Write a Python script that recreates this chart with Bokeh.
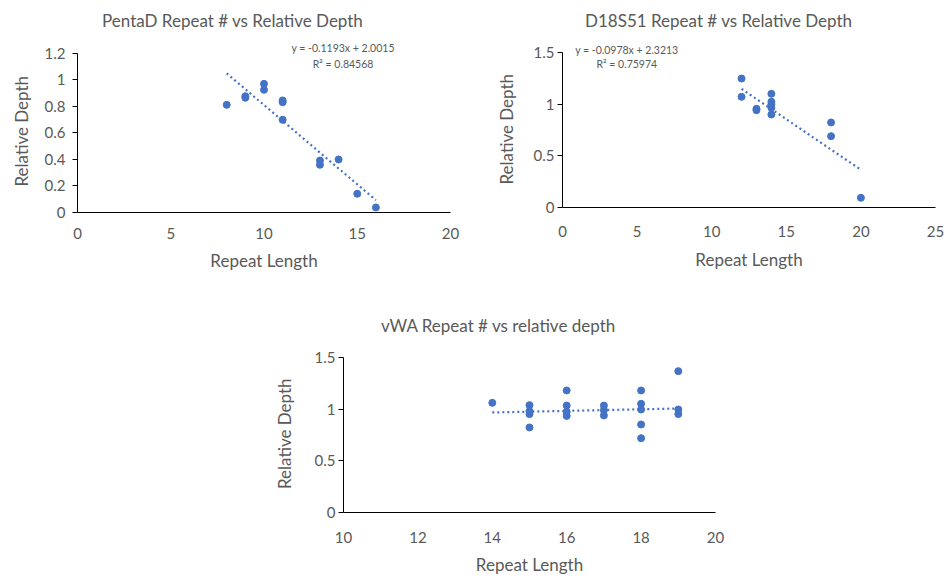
from bokeh.plotting import figure
from bokeh.layouts import column, row
from bokeh.models import Spacer, Label, FixedTicker, CustomJSTickFormatter, Range1d, Title
from bokeh.embed import file_html
from bokeh.resources import INLINE

# ---- data ----
penta_x = [8, 9, 9, 10, 10, 11, 11, 11, 13, 13, 14, 15, 16]
penta_y = [0.81, 0.875, 0.863, 0.968, 0.923, 0.843, 0.830, 0.697, 0.391, 0.359, 0.399, 0.141, 0.038]
penta_slope, penta_icpt = -0.1193, 2.0015
penta_eq = "y = -0.1193x + 2.0015"
penta_r2 = "R² = 0.84568"

d18_x = [12, 12, 13, 13, 14, 14, 14, 14, 14, 18, 18, 20]
d18_y = [1.248, 1.071, 0.955, 0.942, 1.100, 1.023, 0.997, 0.965, 0.900, 0.823, 0.690, 0.094]
d18_slope, d18_icpt = -0.0978, 2.3213
d18_eq = "y = -0.0978x + 2.3213"
d18_r2 = "R² = 0.75974"

vwa_x = [14, 15, 15, 15, 15, 16, 16, 16, 16, 17, 17, 17, 18, 18, 18, 18, 18, 19, 19, 19]
vwa_y = [1.061, 1.039, 0.981, 0.952, 0.823, 1.181, 1.035, 0.974, 0.935, 1.035, 0.990, 0.939,
         1.181, 1.052, 0.997, 0.852, 0.719, 1.368, 0.997, 0.952]
# trend line (no equation shown)
vwa_slope, vwa_icpt = 0.0077, 0.8602

titles = ["PentaD Repeat # vs Relative Depth", "D18S51 Repeat # vs Relative Depth", "vWA Repeat # vs relative depth"]
xlabel = "Repeat Length"
ylabel = "Relative Depth"

BLUE = "#4472C4"
GREY = "#595959"
FONT = "Lato"

fmt = CustomJSTickFormatter(code="return String(Math.round(tick*10)/10);")


def make_fig(fw, fh, left, right, top, bottom, xr, yr, ybounds, xticks, yticks,
             xstand, xlstand, ystand, ylab_off, ylab_stand):
    p = figure(frame_width=fw, frame_height=fh, output_backend="svg", toolbar_location=None,
               x_range=Range1d(*xr), y_range=Range1d(*yr),
               min_border_left=left, min_border_right=right,
               min_border_top=top, min_border_bottom=bottom)
    p.outline_line_color = None
    p.grid.visible = False
    p.background_fill_color = "white"
    p.border_fill_color = "white"
    for ax in (p.xaxis[0], p.yaxis[0]):
        ax.axis_line_color = "#000000"
        ax.axis_line_width = 1
        ax.minor_tick_line_color = None
        ax.major_label_text_font = FONT
        ax.major_label_text_font_size = "15px"
        ax.major_label_text_color = GREY
        ax.axis_label_text_font = FONT
        ax.axis_label_text_font_size = "17px"
        ax.axis_label_text_font_style = "normal"
        ax.axis_label_text_color = GREY
        ax.formatter = fmt
    p.xaxis.ticker = FixedTicker(ticks=xticks)
    p.yaxis.ticker = FixedTicker(ticks=yticks)
    p.yaxis.bounds = ybounds
    p.xaxis.major_tick_line_color = None
    p.xaxis.major_tick_out = 0
    p.xaxis.major_tick_in = 0
    p.xaxis.major_label_standoff = xstand
    p.xaxis.axis_label = xlabel
    p.xaxis.axis_label_standoff = xlstand
    p.yaxis.major_tick_line_color = "#000000"
    p.yaxis.major_tick_out = 5
    p.yaxis.major_tick_in = 0
    p.yaxis.major_label_standoff = ystand
    p.add_layout(Title(text=ylabel, align="left", offset=ylab_off, vertical_align="middle",
                       standoff=ylab_stand, text_font=FONT, text_font_size="17px",
                       text_font_style="normal", text_color=GREY), "left")
    return p


def add_text(p, x, y, text, size):
    p.add_layout(Label(x=x, y=y, text=text, text_align="center", text_baseline="middle",
                       text_font=FONT, text_font_size=size, text_color=GREY))


def add_series(p, xs, ys, slope, icpt):
    p.scatter(xs, ys, size=7, color=BLUE, line_color=BLUE)
    lx = [min(xs), max(xs)]
    ly = [slope * v + icpt for v in lx]
    p.line(lx, ly, line_color=BLUE, line_width=2.2, line_dash="2 3")


# chart 1
p1 = make_fig(373, 204, 77, 20, 8, 68, (0, 20), (0, 1.5348), (0, 1.2),
              [0, 5, 10, 15, 20], [0, 0.2, 0.4, 0.6, 0.8, 1.0, 1.2],
              15, 8, 7, 26, 17.6)
add_series(p1, penta_x, penta_y, penta_slope, penta_icpt)
add_text(p1, 8.32, 1.444, titles[0], "17px")
add_text(p1, 14.24, 1.241, penta_eq, "10.5px")
add_text(p1, 14.24, 1.121, penta_r2, "10.5px")

# chart 2
p2 = make_fig(373, 199, 92, 12, 8, 73, (0, 25), (0, 1.9258), (0, 1.5),
              [0, 5, 10, 15, 20, 25], [0, 0.5, 1.0, 1.5],
              18, 9, 3, 23, 25.4)
add_series(p2, d18_x, d18_y, d18_slope, d18_icpt)
add_text(p2, 10.47, 1.813, titles[1], "17px")
add_text(p2, 4.31, 1.522, d18_eq, "10.5px")
add_text(p2, 4.31, 1.387, d18_r2, "10.5px")

# chart 3
p3 = make_fig(372, 224, 88, 40, 8, 64, (10, 20), (0, 2.1677), (0, 1.5),
              [10, 12, 14, 16, 18, 20], [0, 0.5, 1.0, 1.5],
              19, 8, 3, 23.5, 31.6)
add_series(p3, vwa_x, vwa_y, vwa_slope, vwa_icpt)
add_text(p3, 14.17, 1.813, titles[2], "17px")

layout = column(row(p1, p2), row(Spacer(width=255, height=296), p3))

open("out.html", "w").write(file_html(layout, INLINE))
